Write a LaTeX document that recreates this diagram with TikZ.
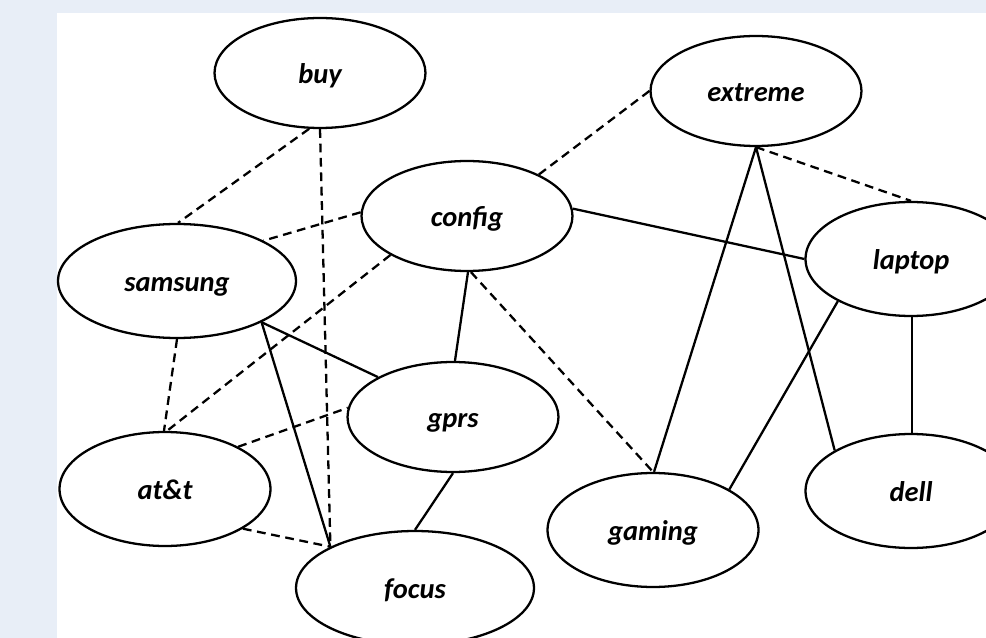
\documentclass[tikz,border=0pt]{standalone}
\usepackage{fontspec}
\setmainfont{Carlito}
\usepackage{tikz}
\usepackage{xcolor}
\usetikzlibrary{shapes.geometric}
\definecolor{pagebg}{HTML}{E8EEF7}
\definecolor{ink}{HTML}{000000}
\tikzset{
  term/.style={ellipse,draw=ink,fill=white,line width=1.3pt,
               minimum width=4.22cm,minimum height=2.2cm,inner sep=0pt,
               text height=13pt,text depth=0.5pt,
               font=\fontsize{16.2}{19}\selectfont\bfseries\itshape},
  wideterm/.style={term,minimum width=4.76cm,minimum height=2.28cm},
  solidlink/.style={draw=ink,line width=1.3pt},
  dashlink/.style={draw=ink,line width=1.3pt,dash pattern=on 5pt off 3.2pt}
}

\begin{document}
\begin{tikzpicture}[x=0.02cm,y=-0.02cm]
  \useasboundingbox (0,0) rectangle (986,638);
  \clip (0,0) rectangle (986,638);
  \fill[pagebg] (0,0) rectangle (986,638);
  \fill[white] (57,13) rectangle (986,638);
  % terms
  \node[term] (buy) at (320,73) {buy};
  \node[term] (extreme) at (756,91) {extreme};
  \node[term] (config) at (467,216) {config};
  \node[wideterm] (samsung) at (177,281) {samsung};
  \node[term,minimum height=2.28cm] (laptop) at (911,259) {laptop};
  \node[term] (gprs) at (453,417) {gprs};
  \node[term,minimum height=2.28cm] (att) at (165,489) {at\&t};
  \node[term,minimum height=2.28cm] (gaming) at (653,530) {gaming};
  \node[term,minimum height=2.28cm] (dell) at (911,491) {dell};
  \node[wideterm] (focus) at (415,588) {focus};
  % dashed links
  \draw[dashlink] (buy.259) -- (samsung.89);
  \draw[dashlink] (buy.270) -- (focus.154);
  \draw[dashlink] (extreme.180) -- (config.30);
  \draw[dashlink] (extreme.270) -- (laptop.90);
  \draw[dashlink] (config.178) -- (samsung.25);
  \draw[dashlink] (config.207) -- (att.88);
  \draw[dashlink] (config.274) -- (gaming.90);
  \draw[dashlink] (samsung.270) -- (att.91);
  \draw[dashlink] (att.30) -- (gprs.175);
  \draw[dashlink] (att.333) -- (focus.154);
  % solid links
  \draw[solidlink] (config.4) -- (laptop.180);
  \draw[solidlink] (config.271) -- (gprs.88);
  \draw[solidlink] (samsung.334) -- (gprs.152);
  \draw[solidlink] (samsung.334) -- (focus.154);
  \draw[solidlink] (gprs.270) -- (focus.90);
  \draw[solidlink] (extreme.270) -- (gaming.89);
  \draw[solidlink] (extreme.270) -- (dell.152);
  \draw[solidlink] (laptop.210) -- (gaming.28);
  \draw[solidlink] (laptop.271) -- (dell.89);
\end{tikzpicture}
\end{document}
